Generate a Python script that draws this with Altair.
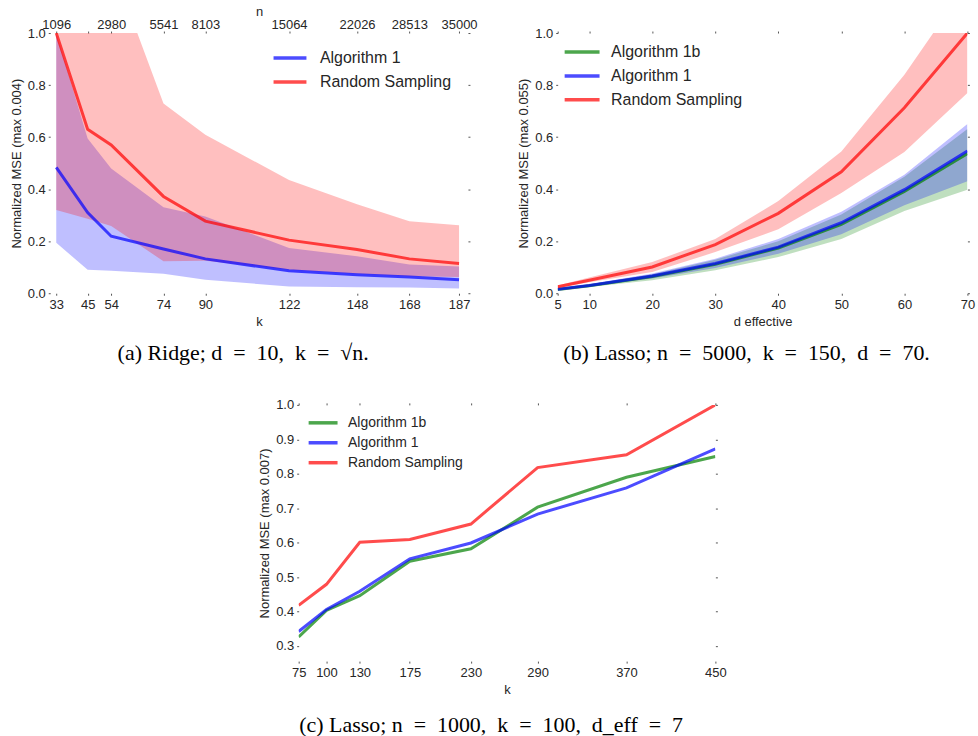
import altair as alt
import pandas as pd

# ---------------- Panel (a): Ridge ----------------
a_k = [33, 45, 54, 74, 90, 122, 148, 168, 187]
a_n_labels = ["1096", "", "2980", "5541", "8103", "15064", "22026", "28513", "35000"]
a_alg1_mean = [0.484, 0.31, 0.219, 0.17, 0.132, 0.086, 0.071, 0.062, 0.052]
a_alg1_lo = [0.194, 0.09, 0.086, 0.075, 0.052, 0.026, 0.023, 0.022, 0.018]
a_alg1_hi = [1.0, 0.595, 0.479, 0.33, 0.295, 0.174, 0.142, 0.11, 0.103]
a_rs_mean = [1.0, 0.63, 0.57, 0.372, 0.277, 0.204, 0.168, 0.132, 0.114]
a_rs_lo = [0.32, 0.286, 0.258, 0.123, 0.125, 0.09, 0.075, 0.065, 0.062]
a_rs_hi = [1.5, 1.4, 1.27, 0.729, 0.609, 0.435, 0.342, 0.277, 0.261]

# ---------------- Panel (b): Lasso vs d effective ----------------
b_d = [5, 10, 20, 30, 40, 50, 60, 70]
b_alg1b_mean = [0.014, 0.029, 0.064, 0.111, 0.174, 0.265, 0.391, 0.537]
b_alg1b_lo = [0.011, 0.024, 0.05, 0.088, 0.139, 0.208, 0.316, 0.398]
b_alg1b_hi = [0.017, 0.034, 0.073, 0.129, 0.2, 0.303, 0.448, 0.631]
b_alg1_mean = [0.015, 0.03, 0.066, 0.114, 0.177, 0.271, 0.398, 0.547]
b_alg1_lo = [0.012, 0.026, 0.057, 0.097, 0.152, 0.227, 0.338, 0.43]
b_alg1_hi = [0.018, 0.035, 0.076, 0.133, 0.208, 0.313, 0.455, 0.65]
b_rs_mean = [0.025, 0.05, 0.101, 0.187, 0.307, 0.467, 0.713, 1.0]
b_rs_lo = [0.02, 0.042, 0.082, 0.158, 0.246, 0.385, 0.543, 0.77]
b_rs_hi = [0.03, 0.06, 0.12, 0.208, 0.354, 0.545, 0.84, 1.19]

# ---------------- Panel (c): Lasso vs k ----------------
c_k = [75, 100, 130, 175, 230, 290, 370, 450]
c_alg1b = [0.326, 0.403, 0.446, 0.546, 0.582, 0.703, 0.790, 0.850]
c_alg1 = [0.342, 0.406, 0.459, 0.553, 0.599, 0.683, 0.759, 0.872]
c_rs = [0.418, 0.479, 0.601, 0.609, 0.654, 0.818, 0.855, 1.0]

SERIES_COLORS = {"Algorithm 1b": "#008000", "Algorithm 1": "#0000ff", "Random Sampling": "#ff0000"}

TXT = "#262626"
SANS = "Liberation Sans"
SERIF = "Liberation Serif"
EN = "\u2002"


def cap(s):
    return s.replace(" = ", EN + "=" + EN).replace(", ", "," + EN)


def long_df(x, series):
    rows = []
    for name, (mean, lo, hi) in series.items():
        for i, xv in enumerate(x):
            rows.append({"x": xv, "series": name, "mean": mean[i],
                         "lo": lo[i] if lo else None, "hi": hi[i] if hi else None})
    return pd.DataFrame(rows)


def panel(df, band_order, line_order, legend_order, x_dom, x_ticks, x_title, y_dom, y_ticks,
          y_title, width, height, legend, caption, top_axis, cap_offset=15):
    xs = alt.Scale(domain=x_dom, nice=False, zero=False)
    ys = alt.Scale(domain=y_dom, nice=False, zero=False)
    x_axis = alt.Axis(values=x_ticks, title=x_title, orient="bottom", labelFlush=False,
                      labelOverlap=False, titlePadding=4)
    y_axis = alt.Axis(values=y_ticks, title=y_title, orient="left", format=".1f",
                      labelOverlap=False, titlePadding=4)
    base = alt.Chart(df)
    layers = []
    first = True
    for s in band_order:
        xa = x_axis if first else None
        ya = y_axis if first else None
        layers.append(
            base.transform_filter(alt.datum.series == s)
            .mark_area(color=SERIES_COLORS[s], opacity=0.25, clip=True)
            .encode(x=alt.X("x:Q", scale=xs, axis=xa),
                    y=alt.Y("lo:Q", scale=ys, axis=ya),
                    y2="hi:Q")
        )
        first = False
    color = alt.Color("series:N",
                      scale=alt.Scale(domain=legend_order,
                                      range=[SERIES_COLORS[s] for s in legend_order]),
                      legend=legend)
    for s in line_order:
        xa = x_axis if first else None
        ya = y_axis if first else None
        layers.append(
            base.transform_filter(alt.datum.series == s)
            .mark_line(strokeWidth=3, opacity=0.7, clip=True)
            .encode(x=alt.X("x:Q", scale=xs, axis=xa),
                    y=alt.Y("mean:Q", scale=ys, axis=ya),
                    color=color)
        )
        first = False
    right_axis = alt.Axis(values=y_ticks, orient="right", title=None, labels=False)
    layers.append(
        base.transform_filter(alt.datum.series == line_order[0])
        .mark_point(opacity=0)
        .encode(x=alt.X("x:Q", scale=xs, axis=top_axis),
                y=alt.Y("mean:Q", scale=ys, axis=right_axis))
    )
    return alt.layer(*layers).resolve_axis(x="independent", y="independent").properties(
        width=width, height=height,
        title=alt.TitleParams(text=cap(caption), orient="bottom", anchor="middle", font=SERIF,
                              fontSize=22, fontWeight="normal", color="black",
                              offset=cap_offset, dx=-16),
    )


def make_legend(x, y, font_size, sym_len, row_h, label_offset):
    return alt.Legend(orient="none", legendX=x, legendY=y, title=None, padding=0,
                      labelFont=SANS, labelFontSize=font_size, labelColor=TXT,
                      symbolType="stroke", symbolSize=sym_len * sym_len, symbolStrokeWidth=3.5,
                      symbolOpacity=0.7, rowPadding=0, clipHeight=row_h,
                      labelOffset=label_offset)


df_a = long_df(a_k, {"Algorithm 1": (a_alg1_mean, a_alg1_lo, a_alg1_hi),
                     "Random Sampling": (a_rs_mean, a_rs_lo, a_rs_hi)})
df_b = long_df(b_d, {"Algorithm 1b": (b_alg1b_mean, b_alg1b_lo, b_alg1b_hi),
                     "Algorithm 1": (b_alg1_mean, b_alg1_lo, b_alg1_hi),
                     "Random Sampling": (b_rs_mean, b_rs_lo, b_rs_hi)})
df_c = long_df(c_k, {"Algorithm 1b": (c_alg1b, None, None),
                     "Algorithm 1": (c_alg1, None, None),
                     "Random Sampling": (c_rs, None, None)})

top_expr_a = "[" + ",".join("'%s'" % s for s in a_n_labels) + "][indexof([" + \
    ",".join(str(v) for v in a_k) + "], datum.value)]"

y_ticks_01 = [0.0, 0.2, 0.4, 0.6, 0.8, 1.0]

top_a = alt.Axis(values=a_k, orient="top", title="n", labelExpr=top_expr_a, labelFlush=False,
                 labelOverlap=False, titlePadding=0, labelPadding=0)
top_b = alt.Axis(values=b_d, orient="top", title=None, labels=False)
top_c = alt.Axis(values=c_k, orient="top", title=None, labels=False)

pa = panel(df_a, ["Algorithm 1", "Random Sampling"], ["Algorithm 1", "Random Sampling"],
           ["Algorithm 1", "Random Sampling"], [30.7, 190.4], a_k, "k", [0, 1], y_ticks_01,
           "Normalized MSE (max 0.004)", 419, 261,
           make_legend(222, 13, 16, 33, 24, 11.5),
           "(a) Ridge; d = 10, k = √n.", top_a)

pb = panel(df_b, ["Algorithm 1b", "Algorithm 1", "Random Sampling"],
           ["Algorithm 1b", "Algorithm 1", "Random Sampling"],
           ["Algorithm 1b", "Algorithm 1", "Random Sampling"], [5, 70], b_d, "d effective",
           [0, 1], y_ticks_01, "Normalized MSE (max 0.055)", 411, 261,
           make_legend(5, 7, 16, 35, 24, 9.5),
           "(b) Lasso; n = 5000, k = 150, d = 70.", top_b)

pc = panel(df_c, [], ["Algorithm 1b", "Algorithm 1", "Random Sampling"],
           ["Algorithm 1b", "Algorithm 1", "Random Sampling"], [75, 450], c_k, "k",
           [0.256, 1.0], [0.3, 0.4, 0.5, 0.6, 0.7, 0.8, 0.9, 1.0],
           "Normalized MSE (max 0.007)", 418, 257,
           make_legend(8, 8, 14, 29, 20, 8.5),
           "(c) Lasso; n = 1000, k = 100, d_eff = 7", top_c, cap_offset=19)

row1 = alt.hconcat(pa, pb, spacing=39).resolve_scale(color="independent")
chart = (
    alt.vconcat(row1, pc, spacing=35, center=True)
    .resolve_scale(color="independent")
    .configure(padding={"left": 10, "top": 4, "right": 3, "bottom": 1}, background="white")
    .configure_view(stroke=None)
    .configure_axis(domain=False, grid=False, ticks=True, tickSize=2, tickColor="#555555",
                    tickWidth=1, labelFont=SANS, labelFontSize=13, labelColor=TXT,
                    labelPadding=3, titleFont=SANS, titleFontSize=13, titleFontWeight="normal",
                    titleColor=TXT)
)

chart.save("out.html", embed_options={"renderer": "svg", "actions": False})
